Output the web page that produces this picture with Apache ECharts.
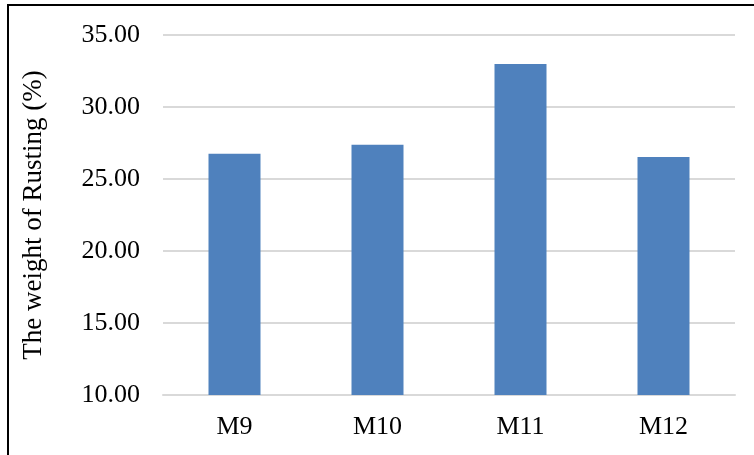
<!DOCTYPE html>
<html>
<head>
<meta charset="utf-8">
<script src="https://cdn.jsdelivr.net/npm/echarts@6/dist/echarts.min.js"></script>
<style>
html,body{margin:0;padding:0;background:#fff;}
#chart{width:754px;height:455px;}
</style>
</head>
<body>
<div id="chart"></div>
<script>
const categories = ['M9', 'M10', 'M11', 'M12'];
const rustWeight = [26.75, 27.38, 32.98, 26.53];
const yMin = 10, yMax = 35, yStep = 5;
const yAxisTitle = 'The weight of Rusting (%)';

const chart = echarts.init(document.getElementById('chart'));
const font = '"Liberation Serif", "Times New Roman", serif';
chart.setOption({
  animation: false,
  backgroundColor: '#fff',
  grid: { left: 163, right: 19, top: 35, bottom: 60 },
  xAxis: {
    type: 'category',
    data: categories,
    axisLine: { show: true, lineStyle: { color: '#d9d9d9', width: 2 } },
    axisTick: { show: false },
    axisLabel: { color: '#000', fontFamily: font, fontSize: 26, margin: 19 }
  },
  yAxis: {
    type: 'value',
    min: yMin, max: yMax, interval: yStep,
    name: yAxisTitle,
    nameLocation: 'middle',
    nameGap: 116,
    nameTextStyle: { color: '#000', fontFamily: font, fontSize: 27 },
    axisLine: { show: false },
    axisTick: { show: false },
    splitLine: { lineStyle: { color: '#d9d9d9', width: 2 } },
    axisLabel: {
      color: '#000', fontFamily: font, fontSize: 26, margin: 23,
      formatter: v => v.toFixed(2)
    }
  },
  series: [{
    type: 'bar',
    data: rustWeight,
    barWidth: 52,
    itemStyle: { color: '#4f81bd' }
  }],
  graphic: [{
    type: 'polyline',
    silent: true,
    shape: { points: [[8, 455], [8, 5], [754, 5]] },
    style: { stroke: '#000', lineWidth: 2, fill: null }
  }]
});
</script>
</body>
</html>
